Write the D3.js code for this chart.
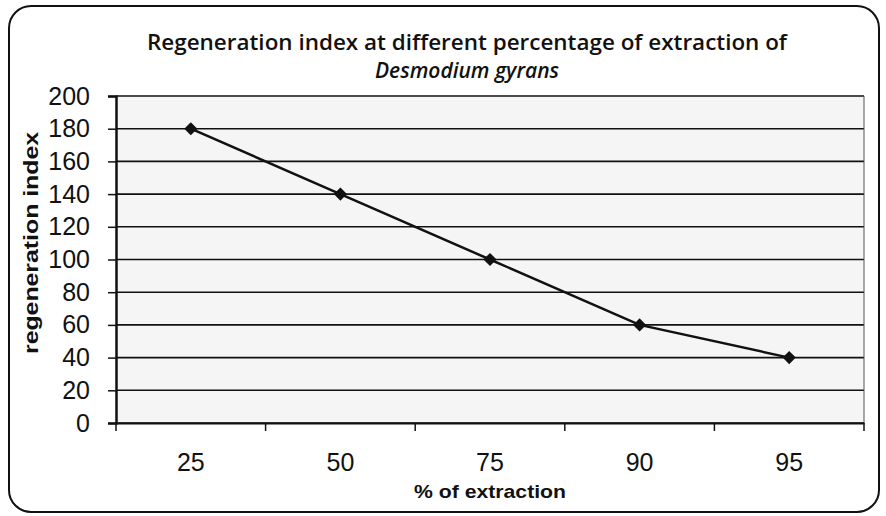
<!DOCTYPE html>
<html>
<head>
<meta charset="utf-8">
<script src="https://cdn.jsdelivr.net/npm/d3@7"></script>
<style>
  body { margin: 0; background: #fff; }
</style>
</head>
<body>
<div id="chart"></div>
<script>
// chart values
var categories = ["25", "50", "75", "90", "95"];
var regenIndex = [180, 140, 100, 60, 40];
var yTicks = [0, 20, 40, 60, 80, 100, 120, 140, 160, 180, 200];

var W = 886, H = 516;
var margin = {top: 96, right: 22, bottom: 93, left: 116};
var width = W - margin.left - margin.right,
    height = H - margin.top - margin.bottom;

var svg = d3.select("#chart").append("svg")
    .attr("width", W)
    .attr("height", H);

// outer frame
svg.append("rect")
    .attr("x", 9).attr("y", 6)
    .attr("width", 870).attr("height", 506)
    .attr("rx", 22).attr("ry", 22)
    .attr("fill", "#fff")
    .attr("stroke", "#111")
    .attr("stroke-width", 2);

// title
var title = svg.append("text")
    .attr("x", 467).attr("y", 50)
    .attr("text-anchor", "middle")
    .style("font-family", "'Open Sans', Lato, sans-serif")
    .style("font-size", "21px")
    .style("font-weight", "600")
    .attr("fill", "#111");
title.append("tspan")
    .attr("textLength", 640)
    .attr("lengthAdjust", "spacingAndGlyphs")
    .text("Regeneration index at different percentage of extraction of");
title.append("tspan")
    .attr("x", 467).attr("dy", 28)
    .style("font-style", "italic")
    .text("Desmodium gyrans");

var g = svg.append("g")
    .attr("transform", "translate(" + margin.left + "," + margin.top + ")");

var x = d3.scaleBand()
    .domain(categories)
    .range([0, width]);

var y = d3.scaleLinear()
    .domain([0, 200])
    .range([height, 0]);

// plot background
g.append("rect")
    .attr("width", width)
    .attr("height", height)
    .attr("fill", "#f5f5f5");

// gridlines
g.selectAll("line.grid")
    .data(yTicks)
    .enter().append("line")
    .attr("class", "grid")
    .attr("x1", 0).attr("x2", width)
    .attr("y1", function(d) { return y(d); })
    .attr("y2", function(d) { return y(d); })
    .attr("stroke", "#111")
    .attr("stroke-width", 1.6);

// right border of plot
g.append("line")
    .attr("x1", width).attr("x2", width)
    .attr("y1", 0).attr("y2", height)
    .attr("stroke", "#555")
    .attr("stroke-width", 1);

// y axis
var yAxis = g.append("g")
    .call(d3.axisLeft(y).tickValues(yTicks).tickSize(8).tickPadding(18));
yAxis.select(".domain").attr("stroke", "#111").attr("stroke-width", 2.5);
yAxis.selectAll(".tick line").attr("stroke", "#111").attr("stroke-width", 1.5);
yAxis.selectAll(".tick text")
    .style("font-family", "Arial, 'Liberation Sans', sans-serif")
    .style("font-size", "25px")
    .attr("fill", "#111");

// x axis - ticks at category boundaries
var xAxis = g.append("g")
    .attr("transform", "translate(0," + height + ")")
    .call(d3.axisBottom(x).tickSize(0).tickPadding(30));
xAxis.select(".domain").attr("stroke", "#111").attr("stroke-width", 2);
xAxis.selectAll(".tick text")
    .style("font-family", "Arial, 'Liberation Sans', sans-serif")
    .style("font-size", "25px")
    .attr("fill", "#111");

var bounds = categories.map(function(c) { return x(c); }).concat([width]);
g.selectAll("line.xtick")
    .data(bounds)
    .enter().append("line")
    .attr("class", "xtick")
    .attr("x1", function(d) { return d; })
    .attr("x2", function(d) { return d; })
    .attr("y1", height).attr("y2", height + 8)
    .attr("stroke", "#111")
    .attr("stroke-width", 1.5);

// series line
var pts = categories.map(function(c, i) { return {cat: c, val: regenIndex[i]}; });
var line = d3.line()
    .x(function(d) { return x(d.cat) + x.bandwidth() / 2; })
    .y(function(d) { return y(d.val); });

g.append("path")
    .datum(pts)
    .attr("d", line)
    .attr("fill", "none")
    .attr("stroke", "#111")
    .attr("stroke-width", 2.5);

g.selectAll("path.marker")
    .data(pts)
    .enter().append("path")
    .attr("class", "marker")
    .attr("d", d3.symbol().type(d3.symbolDiamond2).size(110))
    .attr("transform", function(d) {
        return "translate(" + (x(d.cat) + x.bandwidth() / 2) + "," + y(d.val) + ")";
    })
    .attr("fill", "#111");

// axis titles
svg.append("text")
    .attr("x", 490)
    .attr("y", 498)
    .attr("text-anchor", "middle")
    .attr("textLength", 152)
    .attr("lengthAdjust", "spacingAndGlyphs")
    .style("font-family", "Arial, 'Liberation Sans', sans-serif")
    .style("font-size", "19px")
    .style("font-weight", "bold")
    .attr("fill", "#111")
    .text("% of extraction");

svg.append("text")
    .attr("transform", "translate(38,243) rotate(-90)")
    .attr("text-anchor", "middle")
    .attr("textLength", 222)
    .attr("lengthAdjust", "spacingAndGlyphs")
    .style("font-family", "Arial, 'Liberation Sans', sans-serif")
    .style("font-size", "21px")
    .style("font-weight", "bold")
    .attr("fill", "#111")
    .text("regeneration index");
</script>
</body>
</html>
